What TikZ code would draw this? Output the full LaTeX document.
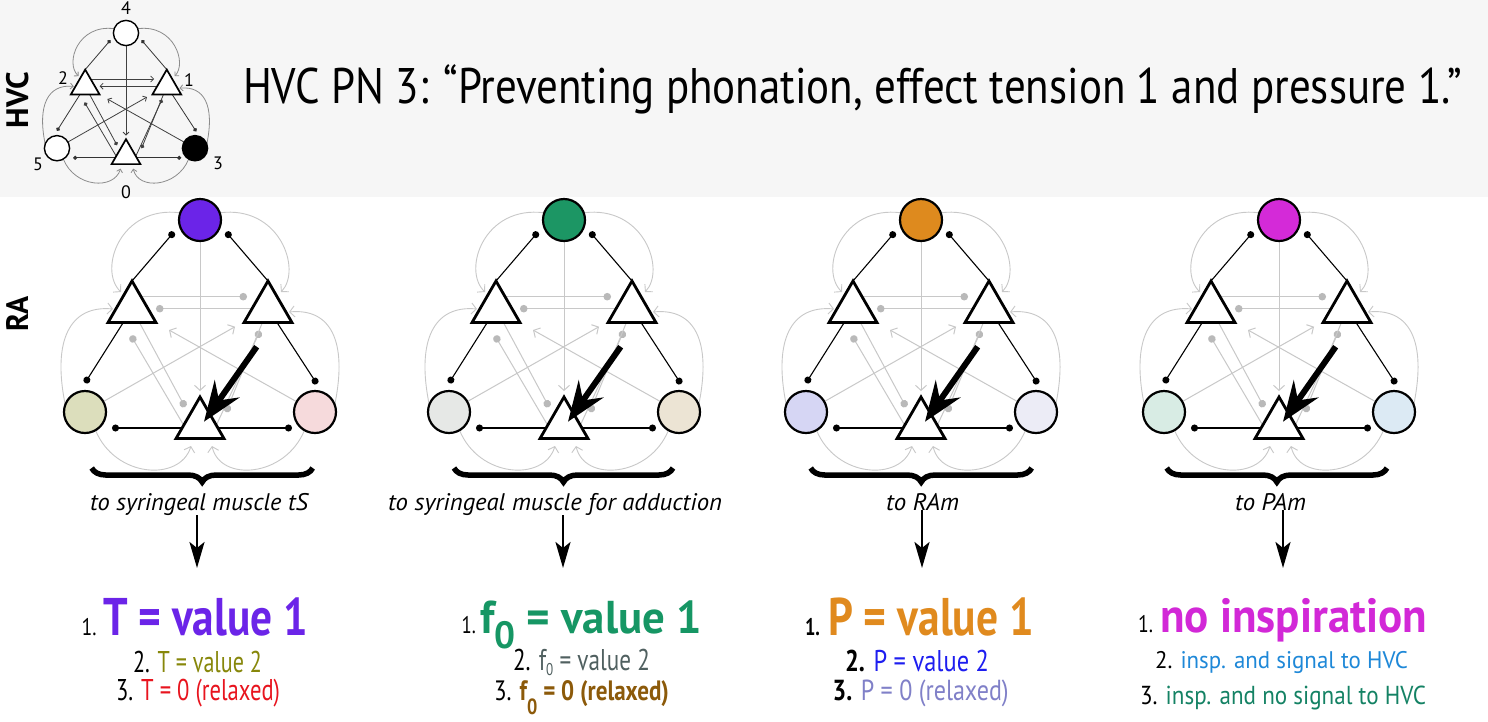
\documentclass[tikz,border=0pt]{standalone}
\usepackage{fontspec}
\setmainfont{PT Sans}
\usepackage{graphicx}
\usetikzlibrary{arrows.meta,shapes.geometric,backgrounds,calc,decorations.pathreplacing}

\definecolor{bandc}{RGB}{246,246,246}
\definecolor{lg}{RGB}{200,200,200}
\definecolor{dg}{RGB}{185,185,185}
\definecolor{cpur}{RGB}{107,36,232}
\definecolor{colive}{RGB}{135,135,10}
\definecolor{cred}{RGB}{232,20,30}
\definecolor{cgrn}{RGB}{22,150,100}
\definecolor{cslate}{RGB}{80,96,96}
\definecolor{cbrown}{RGB}{140,90,10}
\definecolor{corange}{RGB}{224,138,30}
\definecolor{cblue}{RGB}{30,30,240}
\definecolor{clav}{RGB}{128,128,200}
\definecolor{cmag}{RGB}{210,40,215}
\definecolor{cbluetwo}{RGB}{30,136,216}
\definecolor{cteal}{RGB}{20,130,100}
\definecolor{faA}{RGB}{107,36,232}
\definecolor{faB}{RGB}{220,222,188}
\definecolor{faC}{RGB}{246,218,220}
\definecolor{fbA}{RGB}{28,150,100}
\definecolor{fbB}{RGB}{230,232,230}
\definecolor{fbC}{RGB}{236,228,212}
\definecolor{fcA}{RGB}{222,138,30}
\definecolor{fcB}{RGB}{214,214,244}
\definecolor{fcC}{RGB}{236,236,246}
\definecolor{fdA}{RGB}{212,42,216}
\definecolor{fdB}{RGB}{216,236,228}
\definecolor{fdC}{RGB}{220,234,244}

\newsavebox\fitbx
\newcommand\fitto[2]{\sbox\fitbx{#2}\pgfmathsetmacro\fitsx{#1/\the\wd\fitbx}\scalebox{\fitsx}[1]{\usebox\fitbx}}
\newcommand\myfs[1]{\fontsize{#1}{#1}\selectfont}

\tikzset{
 tri/.style={regular polygon,regular polygon sides=3,minimum size=55.4pt,inner sep=0pt,outer sep=0pt,draw=black,line width=2.8pt,fill=white},
 cir/.style={circle,minimum size=42pt,inner sep=0pt,outer sep=0pt,draw=black,line width=2.2pt},
 blk/.style={draw=black,line width=1.1pt,-{Circle[length=7pt,width=7pt]}},
 gdot/.style={draw=lg,line width=1pt,-{Circle[length=7.5pt,width=7.5pt,color=dg]}},
 garr/.style={draw=lg,line width=1pt,-{Straight Barb[length=5pt,width=11pt]}},
 garc/.style={draw=lg,line width=0.9pt,-{Straight Barb[length=5pt,width=11pt]}},
 hzl/.style={gdot},
 hzr/.style={gdot},
 thk/.style={draw=black,line width=6pt,-{Stealth[length=40pt,width=30pt,inset=14pt]}},
 brc/.style={draw=black,line width=5.5pt,decorate,decoration={brace,amplitude=14pt,mirror}},
 dnarr/.style={draw=black,line width=2.5pt,-{Stealth[length=26pt,width=15pt,inset=6pt]}},
 txt/.style={anchor=base west,inner sep=0pt,outer sep=0pt},
 lab/.style={anchor=base west,inner sep=0pt,outer sep=0pt,font=\itshape},
 dig/.style={inner sep=0pt,outer sep=0pt,font=\myfs{18}},
}

\newcommand\net[7]{%
\begin{scope}[shift={(#2,#3)},scale=#4,transform shape]
\node[cir,fill=#5] (#1T) at (0,0) {};
\node[tri] (#1L) at (-68,88.7) {};
\node[tri] (#1R) at (68,88.7) {};
\node[tri] (#1B) at (0,204.7) {};
\node[cir,fill=#6] (#1LC) at (-115,192) {};
\node[cir,fill=#7] (#1RC) at (115,192) {};
\coordinate (#1dTL) at (-26,12);
\coordinate (#1dTR) at (26,12);
\coordinate (#1dLC) at (-115,163);
\coordinate (#1dRC) at (117,164);
\coordinate (#1dBL) at (-88,208);
\coordinate (#1dBR) at (92,208);
\coordinate (#1dLR) at (47,76.7);
\coordinate (#1dRL) at (-44,88.7);
\coordinate (#1aR) at (35,106.7);
\coordinate (#1aL) at (-31,110);
\coordinate (#1aTB) at (0,171);
\coordinate (#1dBtoL) at (-69,115.7);
\coordinate (#1dBtoR) at (60,111);
\coordinate (#1dLB) at (-15,187);
\coordinate (#1dRB) at (26,192);
\coordinate (#1aTL) at (-79,72);
\coordinate (#1aTR) at (81,72);
\coordinate (#1aLCL) at (-87,89);
\coordinate (#1aRCR) at (89,92);
\coordinate (#1aLB) at (-9,226);
\coordinate (#1aRB) at (12,226);
\begin{scope}[on background layer]
\draw[garc] (#1T.160) .. controls (-80,-15) and (-102,50) .. (#1aTL);
\draw[garc] (#1T.20) .. controls (80,-15) and (102,50) .. (#1aTR);
\draw[garc] (#1LC.160) .. controls (-148,120) and (-130,85) .. (#1aLCL);
\draw[garc] (#1RC.20) .. controls (148,120) and (130,88) .. (#1aRCR);
\draw[garc] (#1LC.-60) .. controls (-85,258) and (-20,262) .. (#1aLB);
\draw[garc] (#1RC.240) .. controls (85,258) and (20,262) .. (#1aRB);
\draw[garr] (#1T) -- (#1aTB);
\draw[hzl] (#1L.center |- #1dLR) -- (#1dLR);
\draw[hzr] (#1R.center |- #1dRL) -- (#1dRL);
\draw[garr] (#1LC) -- (#1aR);
\draw[garr] (#1RC) -- (#1aL);
\draw[gdot] ($(#1B.corner 1)!0.68!(#1B.corner 2)$) -- (#1dBtoL);
\draw[gdot] ($(#1B.corner 1)!0.68!(#1B.corner 3)$) -- (#1dBtoR);
\draw[gdot] (#1L) -- (#1dLB);
\draw[gdot] (#1R) -- (#1dRB);
\draw[blk] (#1L.corner 1) -- (#1dTL);
\draw[blk] (#1R.corner 1) -- (#1dTR);
\draw[blk] (#1L) -- (#1dLC);
\draw[blk] (#1R) -- (#1dRC);
\draw[blk] (#1B.center |- #1dBL) -- (#1dBL);
\draw[blk] (#1B.center |- #1dBR) -- (#1dBR);
\end{scope}
\end{scope}}

\newcommand\thkarrow[2]{%
\coordinate (#1k) at (#2+56.7,346.7);
\draw[thk] (#1k) -- ($(#1B.center)+(4,-3)$);}

\begin{document}
\begin{tikzpicture}[x=1pt,y=-1pt]
\useasboundingbox (0,0) rectangle (1488,721);
\begin{scope}[on background layer]
\fill[white] (0,0) rectangle (1488,721);
\fill[bandc] (0,0) rectangle (1488,197);
\end{scope}

% ---------- HVC inset ----------
\begin{scope}[
 tri/.append style={line width=1.7pt},
 cir/.append style={line width=1.4pt},
 blk/.style={draw=black!80,line width=0.8pt,-{Circle[length=4pt,width=4pt]}},
 gdot/.style={draw=black!75,line width=0.8pt,-{Circle[length=4pt,width=4pt]}},
 garr/.style={draw=black!75,line width=0.8pt,-{Straight Barb[length=3pt,width=6pt]}},
 garc/.style={draw=black!45,line width=0.8pt,-{Straight Barb[length=3pt,width=6pt]}},
 hzl/.style={draw=black!75,line width=0.8pt,-{Straight Barb[length=3pt,width=6pt]}},
 hzr/.style={draw=black!75,line width=0.8pt,-{Straight Barb[length=3pt,width=6pt]}}]
\net{h}{126}{33}{0.6}{white}{white}{black}
\end{scope}
\node[dig] (hl4) at (126,8) {4};
\node[dig] (hl2) at (63,78) {2};
\node[dig] (hl1) at (189,80) {1};
\node[dig] (hl5) at (38,164) {5};
\node[dig] (hl3) at (218,163) {3};
\node[dig] (hl0) at (126,192) {0};

\node[rotate=90,anchor=base,inner sep=0pt] (hvclab) at (28,100) {\fitto{56}{\myfs{31}\bfseries HVC}};
\node[rotate=90,anchor=base,inner sep=0pt] (ralab) at (28,314) {\fitto{35}{\myfs{31}\bfseries RA}};

\node[txt] (title) at (243,103) {\fitto{1219}{\myfs{50}HVC PN 3: “Preventing phonation, effect tension 1 and pressure 1.”}};

% ---------- RA networks ----------
\net{a}{200}{220}{1}{faA}{faB}{faC}
\net{b}{564}{220}{1}{fbA}{fbB}{fbC}
\net{c}{921}{220}{1}{fcA}{fcB}{fcC}
\net{d}{1279}{220}{1}{fdA}{fdB}{fdC}
\thkarrow{a}{200}
\thkarrow{b}{564}
\thkarrow{c}{921}
\thkarrow{d}{1279}

% ---------- braces and labels ----------
\draw[brc] (91.7,468) -- (312.7,468);
\draw[brc] (454,468) -- (673,468);
\draw[brc] (810.7,468) -- (1031.7,468);
\draw[brc] (1166.7,468) -- (1387,468);

\node[lab] (lab1) at (90,510) {\fitto{218}{\myfs{24}\itshape to syringeal muscle tS}};
\node[lab] (lab2) at (388,510) {\fitto{334}{\myfs{24}\itshape to syringeal muscle for adduction}};
\node[lab] (lab3) at (886,510) {\fitto{73}{\myfs{24}\itshape to RAm}};
\node[lab] (lab4) at (1235,510) {\fitto{71}{\myfs{24}\itshape to PAm}};

\coordinate (ar1) at (197,568);
\coordinate (ar2) at (563,568);
\coordinate (ar3) at (922,568);
\coordinate (ar4) at (1283,568);
\draw[dnarr] (lab1.south -| ar1) -- (ar1);
\draw[dnarr] (lab2.south -| ar2) -- (ar2);
\draw[dnarr] (lab3.south -| ar3) -- (ar3);
\draw[dnarr] (lab4.south -| ar4) -- (ar4);

% ---------- results ----------
\node[txt] (n1a) at (81.7,635) {\fitto{15}{\myfs{24}1.}};
\node[txt,text=cpur] (v1a) at (103,635) {\fitto{205}{\myfs{53}\bfseries T = value 1}};
\node[txt] (v1b) at (133,672) {\fitto{129}{\myfs{30}2. \textcolor{colive}{T = value 2}}};
\node[txt] (v1c) at (116,700) {\fitto{164}{\myfs{30}3. \textcolor{cred}{T = 0 (relaxed)}}};

\node[txt] (n2a) at (461.7,633) {\fitto{14.3}{\myfs{24}1.}};
\node[txt,text=cgrn] (v2a) at (480,633) {\fitto{222}{\myfs{46}\bfseries f\raisebox{-15pt}{\myfs{38}0} = value 1}};
\node[txt] (v2b) at (513,670.5) {\fitto{137}{\myfs{30}2. \textcolor{cslate}{f\raisebox{-5pt}{\myfs{17}0} = value 2}}};
\node[txt] (v2c) at (494,700.5) {\fitto{175}{\myfs{28}3. \textcolor{cbrown}{\bfseries f\raisebox{-14pt}{\myfs{22}0} = 0 (relaxed)}}};

\node[txt] (n3a) at (805,635) {\fitto{15}{\myfs{24}\bfseries 1.}};
\node[txt,text=corange] (v3a) at (828,635) {\fitto{206}{\myfs{53}\bfseries P = value 1}};
\node[txt] (v3b) at (845,671.5) {\fitto{144}{\myfs{30}{\bfseries 2.} \textcolor{cblue}{P = value 2}}};
\node[txt] (v3c) at (832.7,700) {\fitto{176}{\myfs{29}{\bfseries 3.} \textcolor{clav}{P = 0 (relaxed)}}};

\node[txt] (n4a) at (1138,632) {\fitto{15}{\myfs{24}1.}};
\node[txt,text=cmag] (v4a) at (1160,632) {\fitto{267}{\myfs{48}\bfseries no inspiration}};
\node[txt] (v4b) at (1155,668) {\fitto{253}{\myfs{24}2. \textcolor{cbluetwo}{insp. and signal to HVC}}};
\node[txt] (v4c) at (1140,704) {\fitto{286}{\myfs{26}3. \textcolor{cteal}{insp. and no signal to HVC}}};
\end{tikzpicture}
\end{document}
